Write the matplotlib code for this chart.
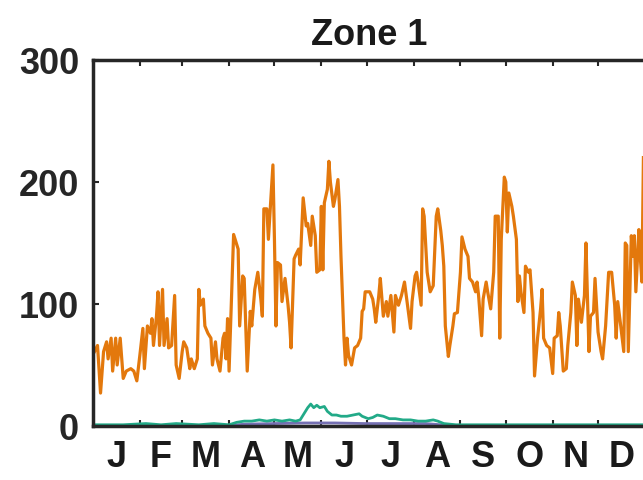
import matplotlib
matplotlib.use("Agg")
import matplotlib.pyplot as plt
from matplotlib.ticker import FixedLocator, NullFormatter

# day of year -> value
orange_days = [1, 3, 5, 7, 9, 10, 12, 13, 15, 16, 18, 20, 22, 25, 27, 29, 31, 33, 34, 36,
               38, 39, 40, 42, 43, 44, 46, 47, 49, 50, 52, 54, 55, 57, 59, 60, 62, 64, 65, 67,
               69, 70, 71, 73, 74, 76, 78, 79, 81, 82, 84, 86, 87, 88, 89, 90, 93, 96, 97, 99,
               100, 102, 104, 105, 107, 109, 111, 112, 113, 115, 116, 118, 119, 120, 121, 122, 124, 125, 127, 129,
               130, 131, 133, 134, 136, 137, 139, 141, 142, 144, 145, 147, 148, 150, 151, 152, 153, 155, 156, 157,
               159, 160, 162, 163, 164, 166, 167, 168, 169, 171, 173, 175, 177, 178, 179, 180, 183, 185, 186, 187,
               189, 190, 192, 194, 195, 197, 199, 200, 202, 204, 206, 208, 210, 211, 213, 214, 215, 217, 218, 219,
               221, 223, 225, 227, 228, 230, 231, 232, 233, 235, 236, 238, 239, 241, 243, 244, 246, 248, 249, 251,
               253, 254, 255, 257, 258, 260, 261, 263, 265, 266, 268, 269, 270, 272, 273, 274, 275, 277, 278, 280,
               281, 282, 283, 285, 286, 288, 289, 291, 292, 294, 296, 297, 298, 300, 302, 304, 305, 307, 308, 309,
               311, 313, 314, 316, 317, 319, 320, 321, 323, 325, 326, 328, 329, 331, 332, 334, 336, 337, 339, 341,
               343, 345, 346, 347, 349, 351, 352, 353, 354, 356, 357, 358, 359, 361, 362, 363, 364]
orange_vals = [61, 66, 27, 61, 69, 55, 72, 45, 72, 50, 72, 39, 45, 47, 45, 37, 58, 80, 47, 82,
               76, 88, 66, 90, 110, 66, 112, 66, 88, 64, 66, 107, 50, 39, 61, 69, 64, 47, 55, 47,
               55, 112, 99, 104, 82, 76, 72, 50, 69, 55, 45, 72, 76, 55, 88, 45, 157, 145, 82, 123,
               121, 45, 94, 82, 112, 126, 104, 90, 178, 178, 153, 194, 214, 153, 82, 134, 132, 102, 121, 99,
               85, 64, 137, 140, 145, 132, 187, 164, 166, 148, 172, 156, 126, 128, 180, 128, 183, 194, 217, 200,
               180, 186, 202, 180, 139, 72, 50, 72, 58, 50, 64, 66, 72, 94, 96, 110, 110, 104, 96, 85,
               107, 121, 90, 102, 90, 107, 77, 107, 99, 107, 118, 99, 80, 102, 123, 126, 118, 99, 178, 172,
               126, 110, 115, 172, 178, 160, 148, 131, 82, 57, 66, 82, 92, 93, 126, 155, 145, 139, 121, 118,
               110, 118, 107, 74, 104, 118, 110, 96, 126, 172, 172, 72, 153, 204, 200, 159, 191, 180, 172, 153,
               102, 123, 110, 93, 131, 126, 128, 93, 41, 72, 96, 112, 72, 66, 64, 43, 72, 74, 93, 82,
               45, 47, 66, 93, 118, 107, 66, 104, 85, 107, 150, 61, 90, 93, 121, 77, 61, 55, 82, 126,
               126, 99, 72, 102, 82, 61, 150, 148, 61, 156, 139, 156, 110, 161, 137, 118, 220]

teal_days = [0, 20, 35, 45, 55, 70, 80, 90, 95, 100, 105, 110, 115, 120, 125, 130, 134, 137, 139, 142,
             144, 146, 148, 150, 153, 155, 158, 161, 164, 168, 172, 176, 178, 182, 185, 188, 192, 196, 200, 205,
             210, 215, 220, 225, 228, 232, 240, 260, 280, 300, 330, 365]
teal_vals = [1, 1, 2, 1, 2, 1, 2, 1, 3, 4, 4, 5, 4, 5, 4, 5, 4, 5, 9, 15,
             18, 15, 17, 15, 16, 12, 9, 9, 8, 8, 9, 10, 8, 6, 7, 9, 8, 6, 6, 5,
             5, 4, 4, 5, 4, 2, 1, 1, 1, 1, 1, 1]

purple_days = [0, 90, 100, 120, 140, 160, 180, 200, 220, 230, 240, 365]
purple_vals = [0.3, 0.3, 1.5, 2, 2.5, 2.5, 2, 2, 2, 1, 0.3, 0.3]

month_labels = ["J", "F", "M", "A", "M", "J", "J", "A", "S", "O", "N", "D"]
month_starts = [0, 31, 59, 90, 120, 151, 181, 212, 243, 273, 304, 334, 365]

plt.rcParams["font.family"] = ["Liberation Sans", "DejaVu Sans"]
plt.rcParams["font.weight"] = "bold"

fig = plt.figure(figsize=(6.43, 4.8), dpi=100)
ax = fig.add_axes([0.1446, 0.1125, 1.003 - 0.1446, 0.875 - 0.1125])

ax.plot(purple_days, purple_vals, color="#7570B3", linewidth=2.0)
ax.plot(teal_days, teal_vals, color="#22AA88", linewidth=2.0)
ax.plot(orange_days, orange_vals, color="#E3780C", linewidth=2.3)

ax.set_xlim(0, 365)
ax.set_ylim(0, 300)
ax.set_yticks([0, 100, 200, 300])
ax.tick_params(axis="y", direction="in", length=4, width=1.5, labelsize=26, pad=10,
               colors="#262626", labelcolor="#262626")

# month boundaries get the tick marks, labels sit mid-month
mids = [(month_starts[i] + month_starts[i + 1]) / 2 for i in range(12)]
ax.xaxis.set_major_locator(FixedLocator(month_starts[1:-1]))
ax.xaxis.set_major_formatter(NullFormatter())
ax.xaxis.set_minor_locator(FixedLocator(mids))
ax.set_xticklabels(month_labels, minor=True)
ax.tick_params(axis="x", which="major", direction="in", length=4, width=1.5,
               top=True, colors="#262626")
ax.tick_params(axis="x", which="minor", length=0, labelsize=26, pad=10,
               labelcolor="#1a1a1a")

for sp in ax.spines.values():
    sp.set_linewidth(2.5)
    sp.set_color("#262626")

ax.set_title("Zone 1", fontsize=26, fontweight="bold", pad=11, color="#1a1a1a")

fig.savefig("out.png", dpi=100)
